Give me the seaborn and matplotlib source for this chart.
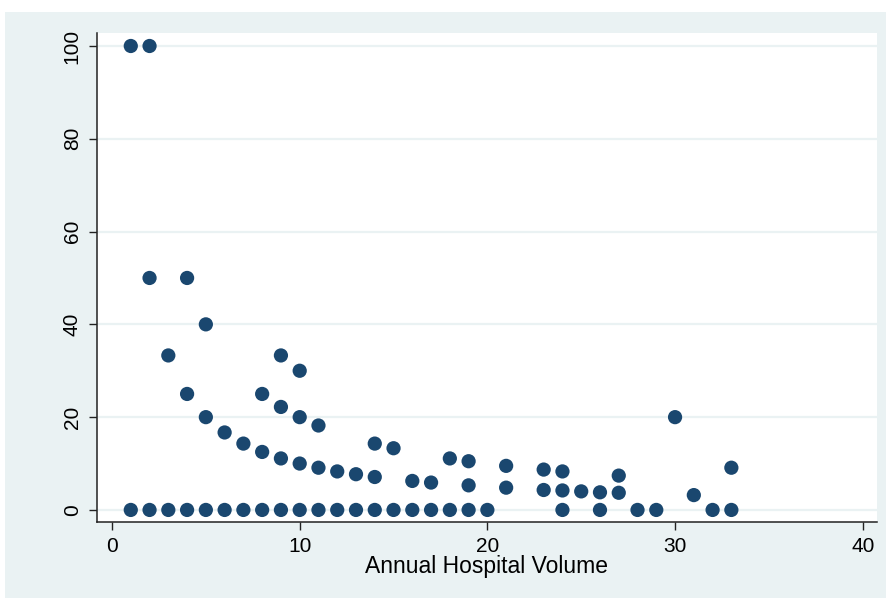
import matplotlib
matplotlib.use("Agg")
import matplotlib.pyplot as plt
import seaborn as sns
import pandas as pd
from matplotlib.patches import Rectangle

volume = [1, 1,
          2, 2, 2,
          3, 3,
          4, 4, 4,
          5, 5, 5,
          6, 6,
          7, 7,
          8, 8, 8,
          9, 9, 9, 9,
          10, 10, 10, 10,
          11, 11, 11,
          12, 12,
          13, 13,
          14, 14, 14,
          15, 15,
          16, 16,
          17, 17,
          18, 18,
          19, 19, 19,
          20,
          21, 21,
          23, 23,
          24, 24, 24,
          25,
          26, 26,
          27, 27,
          28,
          29,
          30,
          31,
          32,
          33, 33]
rate = [100, 0,
        100, 50, 0,
        33.3, 0,
        50, 25, 0,
        40, 20, 0,
        16.7, 0,
        14.3, 0,
        25, 12.5, 0,
        33.3, 22.2, 11.1, 0,
        30, 20, 10, 0,
        18.2, 9.1, 0,
        8.3, 0,
        7.7, 0,
        14.3, 7.1, 0,
        13.3, 0,
        6.25, 0,
        5.9, 0,
        11.1, 0,
        10.5, 5.3, 0,
        0,
        9.5, 4.8,
        8.7, 4.3,
        8.3, 4.2, 0,
        4.0,
        3.8, 0,
        7.4, 3.7,
        0,
        0,
        20,
        3.2,
        0,
        9.1, 0]

xticks = [0, 10, 20, 30, 40]
yticks = [0, 20, 40, 60, 80, 100]

df = pd.DataFrame({"volume": volume, "rate": rate})

sns.set_theme(style="white")
plt.rcParams["font.family"] = ["Liberation Sans", "DejaVu Sans"]
plt.rcParams["text.color"] = "black"
plt.rcParams["xtick.color"] = "black"
plt.rcParams["ytick.color"] = "black"
plt.rcParams["axes.labelcolor"] = "black"

W, H = 887, 598
fig = plt.figure(figsize=(W / 100, H / 100), dpi=100, facecolor="white")
fig.patches.append(Rectangle((5 / W, 0), 1, (H - 12) / H, transform=fig.transFigure,
                             facecolor="#EAF2F3", edgecolor="none", zorder=-10))
ax = fig.add_axes([97 / W, (H - 522) / H, (877 - 97) / W, (522 - 33) / H])
ax.set_facecolor("white")

sns.scatterplot(data=df, x="volume", y="rate", ax=ax, color="#1A476F",
                s=105, edgecolor="none", linewidth=0, zorder=3)

ax.set_xlim(-0.8, 40.76)
ax.set_ylim(-2.6, 102.8)
ax.set_xticks(xticks)
ax.set_yticks(yticks)
ax.set_xticklabels([str(t) for t in xticks], fontsize=15)
ax.set_yticklabels([str(t) for t in yticks], fontsize=15, rotation=90, va="center")
for t in yticks:
    ax.axhline(t, color="#EAF2F3", lw=1.6, zorder=1)
ax.tick_params(axis="both", which="both", direction="out", length=6, width=1,
               color="#222222", labelcolor="black", left=True, bottom=True, pad=5)
for s in ["top", "right"]:
    ax.spines[s].set_visible(False)
for s in ["left", "bottom"]:
    ax.spines[s].set_color("#222222")
    ax.spines[s].set_linewidth(1.1)
ax.set_xlabel("Annual Hospital Volume", fontsize=16.5, labelpad=-1, color="black")
ax.set_ylabel("")

fig.savefig("out.png", dpi=100, facecolor=fig.get_facecolor())
